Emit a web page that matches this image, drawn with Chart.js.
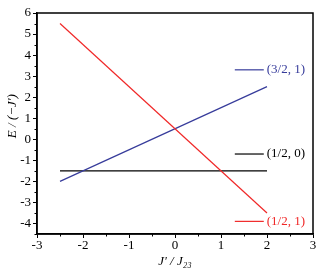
<!DOCTYPE html>
<html>
<head>
<meta charset="utf-8">
<script src="https://cdn.jsdelivr.net/npm/chart.js@4"></script>
<style>
  html, body { margin: 0; padding: 0; background: #fff; }
  #wrap { width: 331px; height: 273px; }
</style>
</head>
<body>
<div id="wrap"><canvas id="levels"></canvas></div>
<script>
// data
var xStart = -2.5, xEnd = 2;
var redLine = [5.5, -3.5];   // (1/2, 1)
var blueLine = [-2, 2.5];    // (3/2, 1)
var blackLine = [-1.5, -1.5]; // (1/2, 0)
var keyNames = ["(3/2, 1)", "(1/2, 0)", "(1/2, 1)"];
var keyY = [3.3, -0.7, -3.9];
var keyX = [1.3, 1.93];
var keyColors = ["rgb(55,60,155)", "#000", "rgb(240,40,40)"];
var xTicks = [-3, -2, -1, 0, 1, 2, 3];
var yTicks = [-4, -3, -2, -1, 0, 1, 2, 3, 4, 5, 6];
var yTitle = "E / (−J')";

var serif = "'Liberation Serif', 'DejaVu Serif', serif";

function seg(vals, color) {
  return {
    data: [{ x: xStart, y: vals[0] }, { x: xEnd, y: vals[1] }],
    borderColor: color, borderWidth: 1.2, pointRadius: 0, fill: false
  };
}

var datasets = [
  seg(redLine, keyColors[2]),
  seg(blueLine, keyColors[0]),
  seg(blackLine, keyColors[1])
];
keyNames.forEach(function (n, i) {
  datasets.push({
    data: [{ x: keyX[0], y: keyY[i] }, { x: keyX[1], y: keyY[i] }],
    borderColor: keyColors[i], borderWidth: 1.2, pointRadius: 0, fill: false
  });
});

var extras = {
  id: "extras",
  afterDraw: function (chart) {
    var ctx = chart.ctx, a = chart.chartArea;
    var xs = chart.scales.x, ys = chart.scales.y;
    ctx.save();
    // box
    ctx.strokeStyle = "#000";
    ctx.lineWidth = 1.5;
    ctx.strokeRect(a.left, a.top, a.right - a.left, a.bottom - a.top);
    // minor ticks
    ctx.lineWidth = 1;
    for (var v = -3; v <= 3; v += 0.5) {
      if (v % 1 === 0) continue;
      var px = Math.round(xs.getPixelForValue(v)) + 0.5;
      ctx.beginPath(); ctx.moveTo(px, a.bottom); ctx.lineTo(px, a.bottom + 2.5); ctx.stroke();
    }
    for (var w = -4.5; w <= 6; w += 0.5) {
      if (w % 1 === 0) continue;
      var py = Math.round(ys.getPixelForValue(w)) + 0.5;
      ctx.beginPath(); ctx.moveTo(a.left, py); ctx.lineTo(a.left - 2.5, py); ctx.stroke();
    }
    // key labels
    ctx.font = "13px " + serif;
    ctx.textBaseline = "middle";
    keyNames.forEach(function (n, i) {
      ctx.fillStyle = keyColors[i];
      ctx.fillText(n, xs.getPixelForValue(keyX[1]) + 3, ys.getPixelForValue(keyY[i]));
    });
    // y title
    ctx.fillStyle = "#000";
    ctx.font = "italic 13px " + serif;
    ctx.textAlign = "center";
    ctx.translate(13, ys.getPixelForValue(1.1));
    ctx.rotate(-Math.PI / 2);
    ctx.fillText(yTitle, 0, 0);
    ctx.restore();
  }
};

new Chart(document.getElementById("levels"), {
  type: "line",
  data: { datasets: datasets },
  options: {
    responsive: true,
    maintainAspectRatio: false,
    animation: false,
    layout: { padding: { top: 13, right: 18, left: 0, bottom: 0 } },
    plugins: { legend: { display: false }, tooltip: { enabled: false } },
    scales: {
      x: {
        type: "linear", min: -3, max: 3,
        afterBuildTicks: function (s) { s.ticks = xTicks.map(function (v) { return { value: v }; }); },
        afterFit: function (s) { s.height = 39; },
        grid: { drawOnChartArea: false, tickLength: 4, color: "#000" },
        border: { color: "#000", width: 1.5 },
        ticks: { color: "#000", font: { family: serif, size: 13 }, padding: 0, maxRotation: 0 },
        title: {
          display: true, text: "J' / J₂₃", color: "#000",
          font: { family: serif, size: 13, style: "italic" }, padding: { top: 0 }
        }
      },
      y: {
        type: "linear", min: -4.5, max: 6,
        afterBuildTicks: function (s) { s.ticks = yTicks.map(function (v) { return { value: v }; }); },
        afterFit: function (s) { s.width = 37; },
        grid: { drawOnChartArea: false, tickLength: 4, color: "#000" },
        border: { color: "#000", width: 1.5 },
        ticks: { color: "#000", font: { family: serif, size: 13 }, padding: 2 }
      }
    }
  },
  plugins: [extras]
});
</script>
</body>
</html>
